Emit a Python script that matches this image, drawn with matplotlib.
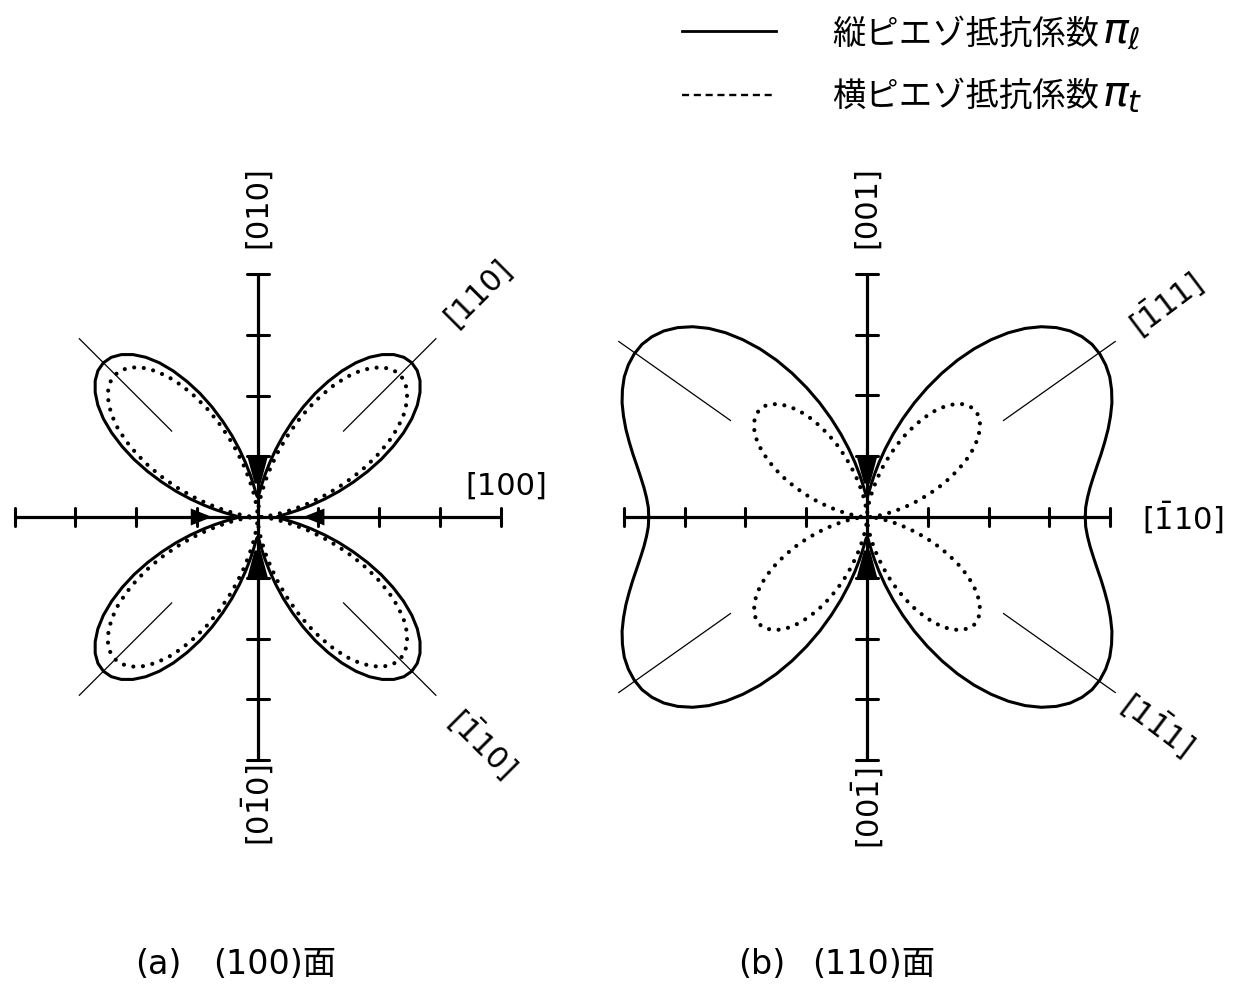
import numpy as np
import matplotlib.pyplot as plt
from matplotlib.lines import Line2D
from matplotlib.patches import Polygon

plt.rcParams['font.family'] = ['DejaVu Sans', 'Noto Sans CJK JP']
plt.rcParams['mathtext.fontset'] = 'dejavusans'

# direction angle from the horizontal axis (deg), first quadrant;
# the other quadrants are mirror images
ang = np.arange(0, 90.1, 2.5)

# |pi| (x1e-11 /Pa), (100) plane, 0..45 deg (symmetric about 45 deg)
pl_100_half = [6.6, 7.1, 8.6, 11.0, 14.2, 18.2, 22.9, 28.1, 33.5, 39.2,
               44.9, 50.3, 55.5, 60.2, 64.2, 67.4, 69.8, 71.3, 71.8]
pt_100_half = [1.1, 1.6, 3.1, 5.5, 8.7, 12.7, 17.4, 22.6, 28.0, 33.7,
               39.4, 44.8, 50.0, 54.7, 58.7, 61.9, 64.3, 65.8, 66.3]
# |pi| (x1e-11 /Pa), (110) plane, angle from [-110], 0..90 deg
pl_110 = [71.8, 72.0, 72.8, 74.0, 75.6, 77.5, 79.7, 82.0, 84.4, 86.7,
          88.9, 90.7, 92.2, 93.1, 93.5, 93.3, 92.3, 90.6, 88.1, 84.9,
          81.0, 76.4, 71.2, 65.6, 59.6, 53.3, 46.9, 40.6, 34.4, 28.6,
          23.2, 18.4, 14.3, 11.0, 8.6, 7.1, 6.6]
pt_110_half = [1.1, 1.5, 2.6, 4.4, 6.8, 9.8, 13.3, 17.2, 21.3, 25.6,
               29.8, 33.9, 37.8, 41.3, 44.3, 46.7, 48.5, 49.6, 50.0]

ticks = [-80, -60, -40, -20, 20, 40, 60, 80]
axis_len = 80

# crystal directions drawn as thin guide lines
dirs_100 = [45, 135, 225, 315]
dirs_110 = [35.26, 144.74, 215.26, 324.74]

W, H = 1249, 984


def mirror45(half):
    return list(half) + list(half[-2::-1])


def full_turn(vals):
    v = np.asarray(vals, float)
    a = np.radians(ang)
    th = np.concatenate([a, np.pi - a[::-1][1:], np.pi + a[1:],
                         2 * np.pi - a[::-1][1:]])
    r = np.concatenate([v, v[::-1][1:], v[1:], v[::-1][1:]])
    return r * np.cos(th), r * np.sin(th)


def make_axes(fig, box, cx, cy, k):
    # box = (left, top, right, bottom) in pixels, (cx, cy) = origin, k = px per unit
    x0, y0, x1, y1 = box
    ax = fig.add_axes([x0 / W, 1 - y1 / H, (x1 - x0) / W, (y1 - y0) / H])
    ax.set_xlim((x0 - cx) / k, (x1 - cx) / k)
    ax.set_ylim((cy - y1) / k, (cy - y0) / k)
    ax.axis('off')
    return ax


def draw_cross(ax, arrows=True):
    ax.plot([-axis_len, axis_len], [0, 0], color='k', lw=2.3, solid_capstyle='butt')
    ax.plot([0, 0], [-axis_len, axis_len], color='k', lw=2.3, solid_capstyle='butt')
    for t in ticks:
        ax.plot([t, t], [-3.0, 3.0], color='k', lw=2.2, solid_capstyle='round')
        ax.plot([-3.6, 3.6], [t, t], color='k', lw=2.2, solid_capstyle='round')
    for s in (1, -1):
        ax.add_patch(Polygon([(-3.4, 20 * s), (3.4, 20 * s), (1.0, 11 * s), (-1.0, 11 * s)],
                             closed=True, color='k', lw=0))
        if arrows:
            ax.add_patch(Polygon([(-22 * s, 2.8), (-15 * s, 0), (-22 * s, -2.8)],
                                 closed=True, color='k', lw=0))


def draw_guides(ax, dirs, r0, r1):
    for d in dirs:
        a = np.radians(d)
        ax.plot([r0 * np.cos(a), r1 * np.cos(a)], [r0 * np.sin(a), r1 * np.sin(a)],
                color='k', lw=0.9)


def draw_curves(ax, pl, pt):
    x, y = full_turn(pl)
    ax.plot(x, y, color='k', lw=2.2, solid_joinstyle='round')
    x, y = full_turn(pt)
    ax.plot(x, y, color='k', lw=3.0, linestyle=(0, (0.01, 2.3)),
            dash_capstyle='round')


fig = plt.figure(figsize=(W / 100, H / 100), dpi=100)
fs_lab = 22

# (a) (100) plane
axL = make_axes(fig, (0, 130, 560, 900), 257.6, 517, 243 / 80)
draw_guides(axL, dirs_100, 40, 83)
draw_cross(axL)
draw_curves(axL, mirror45(pl_100_half), mirror45(pt_100_half))
axL.text(0, 102, '[010]', rotation=90, ha='center', va='center', fontsize=fs_lab)
axL.text(0, -95, r'[0$\bar{1}$0]', rotation=90, ha='center', va='center', fontsize=fs_lab)
axL.text(82, 10, '[100]', ha='center', va='center', fontsize=fs_lab)
axL.text(72.6, 73.7, '[110]', rotation=45, ha='center', va='center', fontsize=fs_lab)
axL.text(74.5, -74.1, r'[$\bar{1}$10]', rotation=-45, ha='center', va='center', fontsize=fs_lab)

# (b) (110) plane
axR = make_axes(fig, (575, 130, 1249, 900), 867, 517, 3.04)
draw_guides(axR, dirs_110, 55, 100)
draw_cross(axR, arrows=False)
draw_curves(axR, pl_110, mirror45(pt_110_half))
axR.text(0, 102, '[001]', rotation=90, ha='center', va='center', fontsize=fs_lab)
axR.text(0, -95.7, r'[00$\bar{1}$]', rotation=90, ha='center', va='center', fontsize=fs_lab)
axR.text(104, 0, r'[$\bar{1}$10]', ha='center', va='center', fontsize=fs_lab)
axR.text(98, 70.4, r'[$\bar{1}$11]', rotation=37, ha='center', va='center', fontsize=fs_lab)
axR.text(95.7, -67.8, r'[1$\bar{1}$1]', rotation=-37, ha='center', va='center', fontsize=fs_lab)

# legend
fig.add_artist(Line2D([682 / W, 776 / W], [1 - 31 / H, 1 - 31 / H], color='k', lw=2.0))
fig.add_artist(Line2D([682 / W, 776 / W], [1 - 95 / H, 1 - 95 / H], color='k', lw=1.7,
                      linestyle=(0, (3, 2))))
jp = ['Noto Sans CJK JP', 'DejaVu Sans']
fig.text(832 / W, 1 - 44 / H, '縦ピエゾ抵抗係数', fontsize=24, family=jp, va='baseline')
fig.text(1102 / W, 1 - 44 / H, r'$\pi_\ell$', fontsize=31, va='baseline')
fig.text(832 / W, 1 - 106 / H, '横ピエゾ抵抗係数', fontsize=24, family=jp, va='baseline')
fig.text(1102 / W, 1 - 106 / H, r'$\pi_t$', fontsize=31, va='baseline')

# captions
fig.text(135 / W, 1 - 965 / H, '(a)', fontsize=24, va='center')
fig.text(213 / W, 1 - 965 / H, '(100)面', fontsize=24, va='center')
fig.text(738 / W, 1 - 965 / H, '(b)', fontsize=24, va='center')
fig.text(812 / W, 1 - 965 / H, '(110)面', fontsize=24, va='center')

fig.savefig('out.png', dpi=100)
